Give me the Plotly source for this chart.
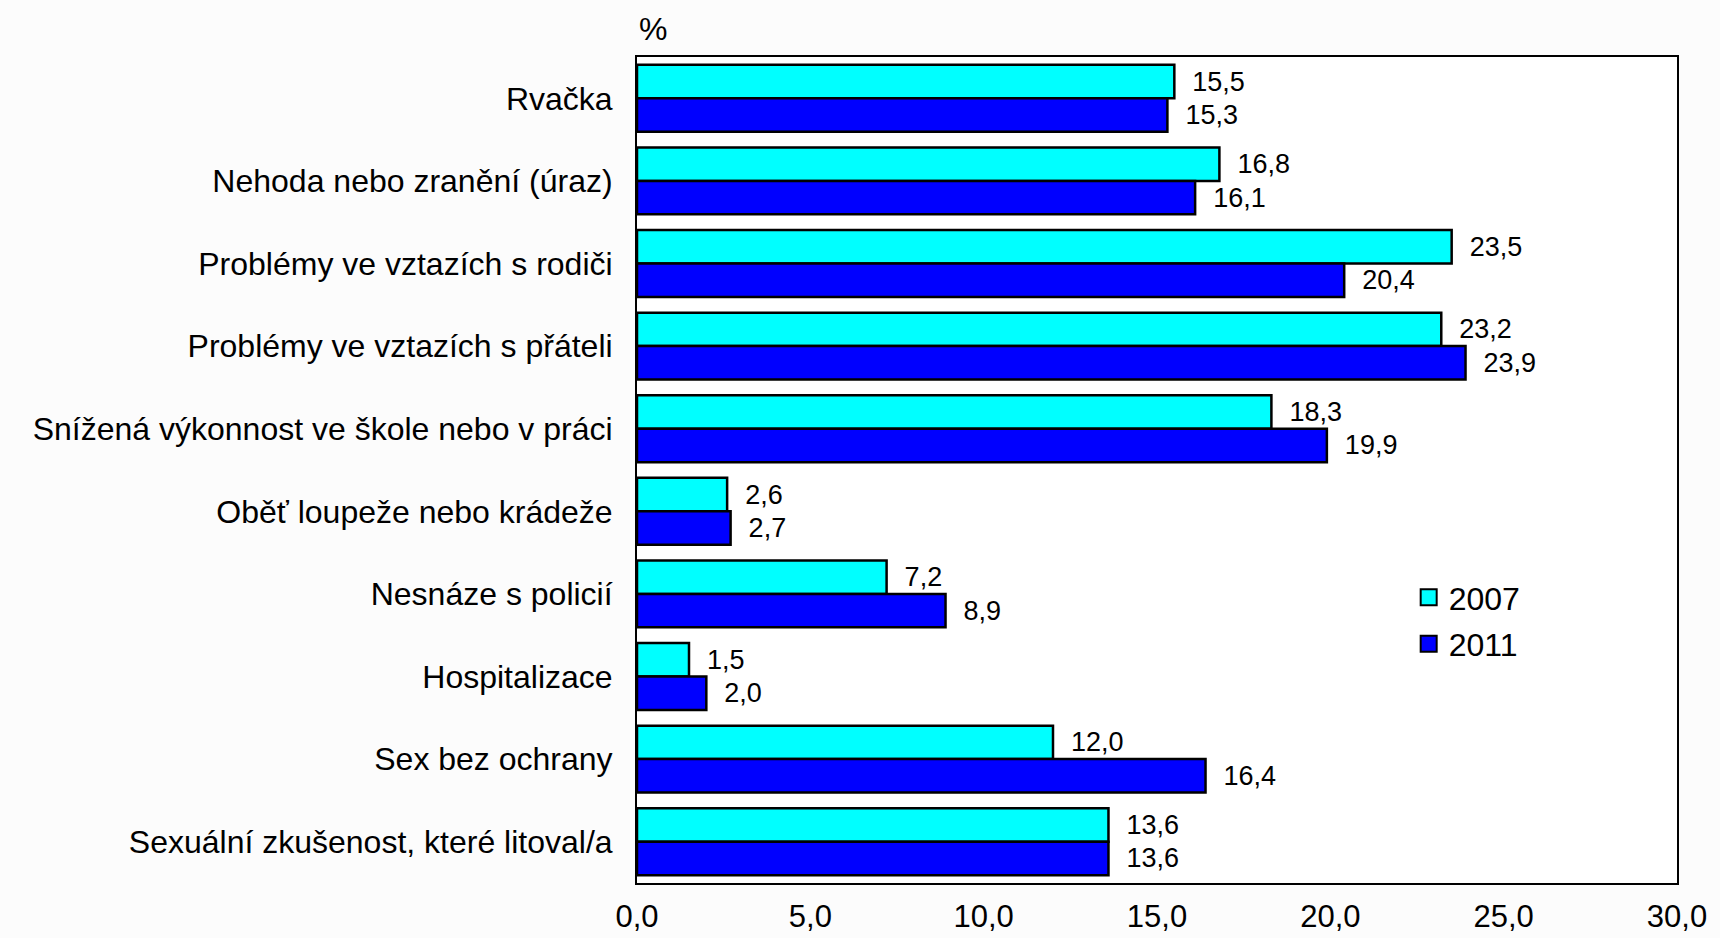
import plotly.graph_objects as go

categories = [
    "Rvačka",
    "Nehoda nebo zranění (úraz)",
    "Problémy ve vztazích s rodiči",
    "Problémy ve vztazích s přáteli",
    "Snížená výkonnost ve škole nebo v práci",
    "Oběť loupeže nebo krádeže",
    "Nesnáze s policií",
    "Hospitalizace",
    "Sex bez ochrany",
    "Sexuální zkušenost, které litoval/a",
]
values_2007 = [15.5, 16.8, 23.5, 23.2, 18.3, 2.6, 7.2, 1.5, 12.0, 13.6]
values_2011 = [15.3, 16.1, 20.4, 23.9, 19.9, 2.7, 8.9, 2.0, 16.4, 13.6]
x_ticks = [0, 5, 10, 15, 20, 25, 30]

FONT = "Liberation Sans, Arial, sans-serif"

fig = go.Figure()
series = [("2007", values_2007, "#00FFFF"), ("2011", values_2011, "#0000FF")]
for name, vals, color in series:
    fig.add_trace(go.Bar(
        y=categories, x=vals, name=name, orientation="h",
        marker=dict(color=color, line=dict(color="black", width=2.5)),
        texttemplate="\u00a0\u00a0%{x:.1f}", textposition="outside",
        textfont=dict(size=27, color="black", family=FONT),
        cliponaxis=False, legendgroup=name, showlegend=False,
    ))
# legend entries with larger swatches
for name, vals, color in series:
    fig.add_trace(go.Scatter(
        x=[None], y=[None], mode="markers", name=name, legendgroup=name,
        marker=dict(symbol="square", size=24, color=color,
                    line=dict(color="black", width=2)),
        showlegend=True, hoverinfo="skip",
    ))

fig.update_layout(
    width=1720, height=938,
    margin=dict(l=637, r=43, t=57, b=55),
    barmode="group", bargap=0.19, bargroupgap=0,
    separators=", ",
    paper_bgcolor="#fcfcfc", plot_bgcolor="white",
    font=dict(family=FONT, size=32, color="black"),
    showlegend=True,
    legend=dict(x=0.742, y=0.379, xanchor="left", yanchor="top",
                bgcolor="rgba(0,0,0,0)", font=dict(size=32),
                traceorder="grouped", tracegroupgap=2, itemwidth=30),
    xaxis=dict(range=[0, 30], tickvals=x_ticks, tickformat=".1f",
               showgrid=False, zeroline=False, showline=True, linecolor="black",
               linewidth=2, mirror=True, ticks="", ticklabelstandoff=5,
               tickfont=dict(size=31), automargin=False),
    yaxis=dict(autorange="reversed", showgrid=False, showline=True, linecolor="black",
               linewidth=2, mirror=True, ticks="", ticklabelstandoff=16,
               tickfont=dict(size=32), automargin=False),
    annotations=[dict(text="%", xref="paper", yref="paper", x=0, y=1, xanchor="left",
                      yanchor="bottom", yshift=8, showarrow=False, font=dict(size=32))],
)

fig.write_html("out.html", config={"displayModeBar": False},
               post_script="document.body.style.margin='0';document.body.style.overflow='hidden';")
